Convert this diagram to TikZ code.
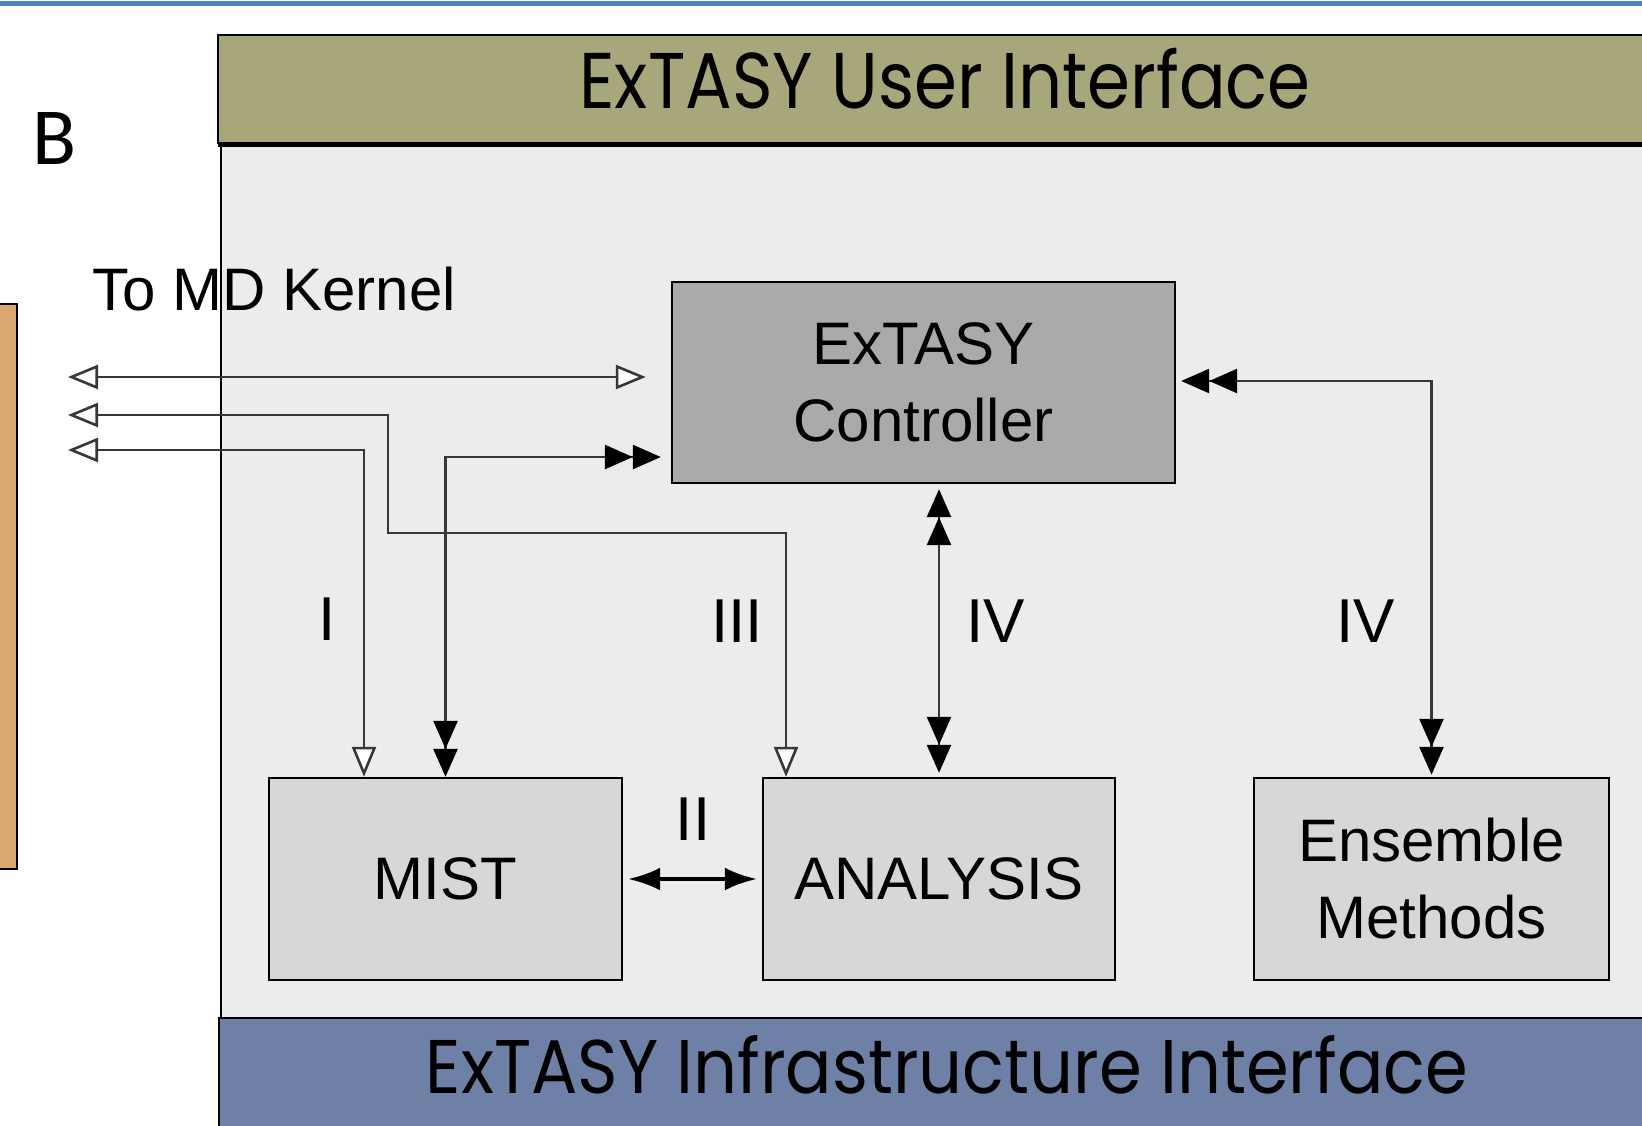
\documentclass[tikz,border=0pt]{standalone}
\usepackage{fontspec}
\setmainfont{Liberation Sans}
\newfontfamily\gothicui[FakeStretch=0.875]{Poppins}
\newfontfamily\gothicinfra[FakeStretch=0.905]{Poppins}
\newfontfamily\calibri{Carlito}
\usetikzlibrary{arrows.meta}

\definecolor{topblue}{RGB}{79,129,189}
\definecolor{uiolive}{RGB}{168,166,123}
\definecolor{panelgray}{RGB}{235,236,238}
\definecolor{ctrlgray}{RGB}{170,170,170}
\definecolor{boxgray}{RGB}{214,215,215}
\definecolor{infrablue}{RGB}{110,128,166}
\definecolor{mdorange}{RGB}{218,166,113}
\definecolor{linegray}{RGB}{55,55,55}

\tikzset{
  hollowtip/.tip={Triangle[length=15pt,width=12pt,fill=white]},
  doubletip/.tip={Triangle[length=14pt,width=12pt,black]Triangle[length=14pt,width=12pt,black]},
  kernelline/.style={draw=linegray,line width=1.3pt,{hollowtip}-{hollowtip}},
  ctrlline/.style={draw=linegray,line width=1.3pt,{doubletip}-{doubletip}},
  twoway/.style={draw=black,line width=2pt,{Latex[length=16pt,width=11.5pt]}-{Latex[length=16pt,width=11.5pt]}},
  block/.style={draw=black,line width=1.2pt,fill=boxgray,inner sep=0pt,
    minimum height=101pt,align=center,font=\fontsize{30pt}{38.5pt}\selectfont},
  roman/.style={inner sep=0pt,font=\fontsize{31pt}{32pt}\selectfont},
}

\begin{document}
\begin{tikzpicture}[x=0.5pt,y=0.5pt,yscale=-1,xscale=1]
  \useasboundingbox (0,0) rectangle (1642,1125);
  %Shape: Rectangle [top rule]
  \fill [topblue] (0,1) rectangle (1642,5.5);
  %Shape: Rectangle [inner panel]
  \draw [line width=1pt,fill=panelgray] (221,145) rectangle (1660,1018);
  %Shape: Rectangle [user interface bar]
  \draw [line width=1pt,fill=uiolive] (218,35) rectangle (1660,143);
  \draw [line width=2.5pt] (218,144.5) -- (1660,144.5);
  %Shape: Rectangle [infrastructure bar]
  \draw [line width=1pt,fill=infrablue] (219,1018) rectangle (1660,1135);
  %Shape: Rectangle [MD kernel]
  \draw [line width=1.2pt,fill=mdorange] (-10,304) rectangle (17,869);

  % Text Node
  \node [anchor=base,inner sep=0pt,font=\gothicui\fontsize{39.5pt}{40pt}\selectfont] (uitext) at (945,108) {ExTASY User Interface};
  % Text Node
  \node [anchor=base,inner sep=0pt,font=\gothicinfra\fontsize{38pt}{40pt}\selectfont] (infratext) at (947,1093) {ExTASY Infrastructure Interface};
  % Text Node
  \node [anchor=base west,inner sep=0pt,font=\calibri\fontsize{40.5pt}{41pt}\selectfont] (panelB) at (32,164) {B};
  % Text Node
  \node [anchor=base west,inner sep=0pt,font=\fontsize{30pt}{31pt}\selectfont] (kerneltext) at (92,310) {To MD Kernel};

  % Blocks
  \node [block,fill=ctrlgray,minimum width=251.5pt,minimum height=100.5pt] (ctrl) at (923.5,382.5) {ExTASY\\Controller};
  \node [block,minimum width=176.5pt] (mist) at (445.5,879) {MIST};
  \node [block,minimum width=176pt] (ana) at (939,879) {ANALYSIS};
  \node [block,minimum width=177.5pt] (ens) at (1431.5,879) {Ensemble\\Methods};

  % Turning points
  \coordinate (k1) at (68,377);
  \coordinate (k2) at (68,415);
  \coordinate (k3) at (68,450);
  \coordinate (b2) at (388,533);
  \coordinate (t1) at (364,0);
  \coordinate (t3) at (786,0);
  \coordinate (t4) at (0,457);
  \coordinate (t6) at (0,381);

  %Straight Lines [to MD kernel]
  \draw [kernelline,shorten >=12.5pt] (k1) -- (k1 -| ctrl.west);
  \draw [kernelline] (k2) -| (b2) -| (t3 |- ana.north);
  \draw [kernelline] (k3) -| (t1 |- mist.north);
  %Straight Lines [controller links]
  \draw [ctrlline,shorten <=5pt] (t4 -| ctrl.west) -| (mist.north);
  \draw [ctrlline,shorten <=2.5pt,shorten >=2pt] (ctrl.south -| ana.north) -- (ana.north);
  \draw [ctrlline,shorten <=2.5pt,shorten >=1pt] (t6 -| ctrl.east) -| (ens.north);
  %Straight Lines [MIST - ANALYSIS]
  \draw [twoway,shorten <=2.5pt,shorten >=2.5pt] (mist.east) -- (ana.west);

  % Text Node
  \node [roman] (lblI) at (327,619) {I};
  \node [roman] (lblII) at (693,819.5) {II};
  \node [roman] (lblIII) at (737,621) {III};
  \node [roman] (lblIVa) at (996,621) {IV};
  \node [roman] (lblIVb) at (1366,621) {IV};
\end{tikzpicture}
\end{document}
